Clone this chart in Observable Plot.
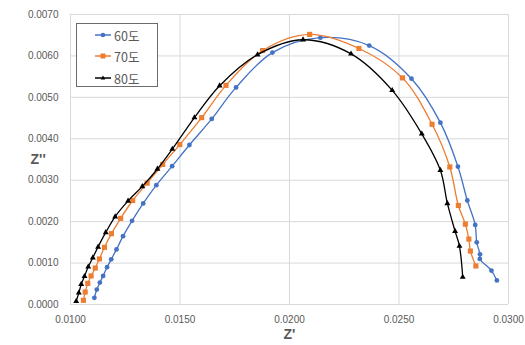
<!DOCTYPE html>
<html><head><meta charset="utf-8">
<script src="https://cdn.jsdelivr.net/npm/d3@7"></script>
<script src="https://cdn.jsdelivr.net/npm/@observablehq/plot@0.6"></script>
<style>
body{margin:0;background:#fff;}
#wrap{position:relative;width:525px;height:345px;font-family:"Liberation Sans","Noto Sans CJK KR",sans-serif;}
#legend{position:absolute;left:76px;top:23px;width:82px;height:64px;border:1px solid #6b6b6b;background:#fff;box-sizing:border-box;}
.item{position:absolute;left:18px;height:14px;display:flex;align-items:center;font-size:12.5px;color:#595959;font-family:"Noto Sans CJK KR","Liberation Sans",sans-serif;}
.item svg{margin-right:2px;}
</style></head>
<body><div id="wrap"><div id="chart"></div><div id="legend"></div></div>
<script>
const seriesNames = ["60도","70도","80도"];
const colors = ["#4472C4","#ED7D31","#000000"];
const symbols = ["circle","square","triangle"];
const markerR = [2.4, 2.9, 2.2];
const xTicks = [0.010,0.015,0.020,0.025,0.030];
const yTicks = [0,0.001,0.002,0.003,0.004,0.005,0.006,0.007];

const z60x = [0.01109,0.01120,0.01134,0.01149,0.01167,0.01186,0.01210,0.01240,0.01281,0.01332,0.01392,0.01464,0.01543,0.01645,0.01756,0.01922,0.02141,0.02364,0.02557,0.02689,0.02769,0.02812,0.02848,0.02855,0.02870,0.02869,0.02922,0.02947];
const z60y = [0.00016,0.00036,0.00053,0.00069,0.00090,0.00109,0.00133,0.00165,0.00202,0.00244,0.00288,0.00334,0.00385,0.00448,0.00524,0.00608,0.00644,0.00625,0.00545,0.00439,0.00333,0.00251,0.00192,0.00150,0.00121,0.00110,0.00082,0.00058];

const z70x = [0.01059,0.01067,0.01079,0.01094,0.01113,0.01132,0.01155,0.01187,0.01229,0.01284,0.01350,0.01421,0.01499,0.01599,0.01710,0.01877,0.02092,0.02317,0.02516,0.02651,0.02732,0.02771,0.02803,0.02819,0.02826,0.02851];
const z70y = [0.00010,0.00030,0.00051,0.00069,0.00088,0.00110,0.00138,0.00171,0.00208,0.00251,0.00293,0.00338,0.00386,0.00451,0.00529,0.00613,0.00652,0.00618,0.00547,0.00435,0.00332,0.00239,0.00194,0.00158,0.00129,0.00093];

const z80x = [0.01026,0.01038,0.01049,0.01064,0.01081,0.01102,0.01126,0.01161,0.01204,0.01263,0.01328,0.01397,0.01465,0.01566,0.01681,0.01854,0.02062,0.02281,0.02469,0.02604,0.02689,0.02721,0.02756,0.02776,0.02791];
const z80y = [0.00008,0.00028,0.00049,0.00068,0.00091,0.00113,0.00139,0.00174,0.00212,0.00250,0.00285,0.00327,0.00375,0.00451,0.00528,0.00603,0.00639,0.00605,0.00517,0.00412,0.00324,0.00244,0.00177,0.00141,0.00066];

const allX = [z60x,z70x,z80x], allY = [z60y,z70y,z80y];
const seriesData = allX.map((xs,s)=>xs.map((x,i)=>({series:seriesNames[s], x, y:allY[s][i]})));

const fmt = d3.format(".4f");
const chart = Plot.plot({
  width:525, height:345,
  marginLeft:70, marginRight:17, marginTop:14, marginBottom:41,
  style:{fontFamily:"Liberation Sans, sans-serif", fontSize:"10px", color:"#595959", background:"#fff"},
  x:{domain:[0.01,0.03]},
  y:{domain:[0,0.007]},
  marks:[
    Plot.gridX(xTicks,{stroke:"#d9d9d9", strokeOpacity:1}),
    Plot.gridY(yTicks,{stroke:"#d9d9d9", strokeOpacity:1}),
    Plot.axisX(xTicks,{tickSize:0, tickPadding:11, tickFormat:fmt, label:null, fill:"#595959", fontSize:10}),
    Plot.axisY(yTicks,{tickSize:0, tickPadding:12, tickFormat:fmt, label:null, fill:"#595959", fontSize:10}),
    Plot.ruleY([0],{stroke:"#d9d9d9"}),
    ...seriesData.flatMap((d,s)=>[
      Plot.line(d,{x:"x", y:"y", stroke:colors[s], strokeWidth:1.3, curve:"catmull-rom"}),
      Plot.dot(d,{x:"x", y:"y", fill:colors[s], symbol:symbols[s], r:markerR[s]})
    ]),
    Plot.text(["Z'"],{frameAnchor:"bottom", dy:34, fontWeight:"bold", fontSize:14, fill:"#595959"}),
    Plot.text(["Z''"],{frameAnchor:"left", dx:-40, fontWeight:"bold", fontSize:14, fill:"#595959"})
  ]
});
document.getElementById("chart").appendChild(chart);

const leg = document.getElementById("legend");
const tops = [4,25,47];
seriesNames.forEach((name,i)=>{
  const div = document.createElement("div");
  div.className="item"; div.style.top = tops[i]+"px";
  let mk = "";
  if(symbols[i]==="circle") mk = `<circle cx="8" cy="7" r="2.3" fill="${colors[i]}"/>`;
  else if(symbols[i]==="square") mk = `<rect x="5.5" y="4.5" width="5" height="5" fill="${colors[i]}"/>`;
  else mk = `<path d="M8,4.5 L10.3,8.5 L5.7,8.5 Z" fill="${colors[i]}"/>`;
  div.innerHTML = `<svg width="17" height="14"><line x1="0" x2="16" y1="7" y2="7" stroke="${colors[i]}" stroke-width="1.5"/>${mk}</svg><span>${name}</span>`;
  leg.appendChild(div);
});
</script></body></html>
